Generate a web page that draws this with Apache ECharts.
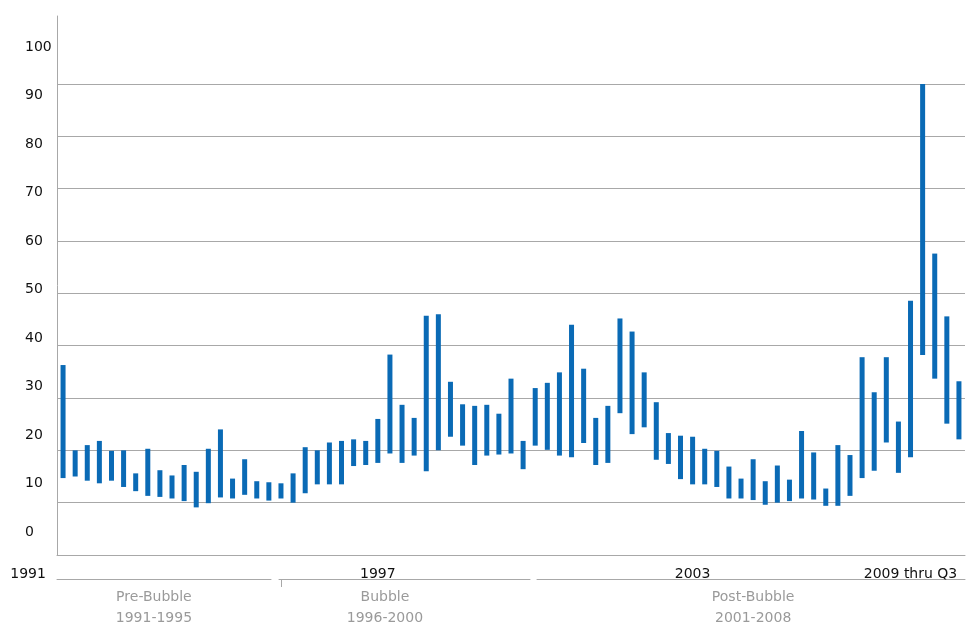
<!DOCTYPE html>
<html>
<head>
<meta charset="utf-8">
<script src="https://cdn.jsdelivr.net/npm/echarts@6/dist/echarts.min.js"></script>
<style>
html,body{margin:0;padding:0;background:#ffffff;}
#chart{width:966px;height:629px;}
</style>
</head>
<body>
<div id="chart"></div>
<script>
// ---- data ----
const years = [1991,1992,1993,1994,1995,1996,1997,1998,1999,2000,2001,2002,2003,2004,2005,2006,2007,2008,2009];
const quarters = ['Q1','Q2','Q3','Q4'];
const categories = [];
years.forEach(function (y) {
  quarters.forEach(function (q) {
    if (!(y === 2009 && q === 'Q4')) categories.push(y + ' ' + q);
  });
});

const highValues = [
  36.3, 20.0, 21.0, 21.8, 19.9, 20.0, 15.6, 20.3, 16.2, 15.2, 17.2, 15.9,
  20.3, 24.0, 14.6, 18.3, 14.1, 13.9, 13.7, 15.6, 20.6, 20.0, 21.5, 21.8,
  22.1, 21.8, 26.0, 38.3, 28.7, 26.2, 45.7, 46.0, 33.1, 28.8, 28.5, 28.7,
  27.0, 33.7, 21.8, 31.9, 32.9, 34.9, 44.0, 35.6, 26.2, 28.5, 45.2, 42.7,
  34.9, 29.2, 23.3, 22.8, 22.6, 20.3, 19.9, 16.9, 14.6, 18.3, 14.1, 17.1,
  14.4, 23.7, 19.6, 12.7, 21.0, 19.1, 37.8, 31.1, 37.8, 25.5, 48.6, 90.0,
  57.6, 45.6, 33.2
];
const lowValues = [
  14.7, 15.0, 14.2, 13.7, 14.2, 13.0, 12.2, 11.3, 11.1, 10.8, 10.3, 9.1,
  9.9, 11.0, 10.8, 11.5, 10.8, 10.4, 10.8, 10.0, 11.8, 13.5, 13.5, 13.5,
  17.0, 17.2, 17.6, 19.4, 17.6, 19.0, 16.0, 20.0, 22.6, 20.9, 17.2, 19.0,
  19.2, 19.4, 16.4, 20.9, 20.1, 19.0, 18.7, 21.4, 17.2, 17.6, 27.1, 23.1,
  24.4, 18.2, 17.4, 14.5, 13.5, 13.5, 13.0, 10.8, 10.8, 10.5, 9.6, 10.0,
  10.3, 10.8, 10.6, 9.4, 9.4, 11.3, 14.7, 16.1, 21.5, 15.7, 18.7, 38.2,
  33.7, 25.1, 22.1
];

const yTickLabels = [0, 10, 20, 30, 40, 50, 60, 70, 80, 90, 100];
const yearLabels = ['1991', '1997', '2003', '2009 thru Q3'];
const yearLabelIndex = [0, 26, 52, 70];
const periodNames = ['Pre-Bubble', 'Bubble', 'Post-Bubble'];
const periodRanges = ['1991-1995', '1996-2000', '2001-2008'];
const periodLabelIndex = [8, 27, 57];
const periodDividerIndex = 18;

// ---- chart ----
const FONT = 'DejaVu Sans';
const GRID_COLOR = '#a8a8a8';
const BAR_COLOR = '#0a6ab5';

const rangeValues = highValues.map(function (h, i) { return +(h - lowValues[i]).toFixed(2); });

const chart = echarts.init(document.getElementById('chart'), null, { renderer: 'canvas' });

const gridRect = { left: 57, right: 1, top: 16, bottom: 74 };

const splitColors = [];
for (let i = 0; i < 9; i++) splitColors.push(GRID_COLOR);
splitColors.push('rgba(0,0,0,0)');

const option = {
  backgroundColor: '#ffffff',
  animation: false,
  grid: [
    Object.assign({}, gridRect),
    Object.assign({}, gridRect)
  ],
  xAxis: [
    {
      gridIndex: 0,
      type: 'category',
      data: categories,
      boundaryGap: true,
      axisLine: { show: true, onZero: false, lineStyle: { color: GRID_COLOR, width: 1 } },
      axisTick: { show: false },
      axisLabel: {
        interval: 0,
        margin: 12,
        color: '#111111',
        fontFamily: FONT,
        fontSize: 14,
        formatter: function (value, index) {
          const k = yearLabelIndex.indexOf(index);
          if (k < 0) return '';
          return '{' + (k === 0 ? 'first' : 'yr') + '|' + yearLabels[k] + '}';
        },
        rich: {
          first: { fontFamily: FONT, fontSize: 14, color: '#111111', padding: [0, 70, 0, 0] },
          yr: { fontFamily: FONT, fontSize: 14, color: '#111111' }
        }
      },
      splitLine: { show: false }
    },
    {
      gridIndex: 1,
      type: 'category',
      data: categories,
      boundaryGap: true,
      position: 'bottom',
      offset: 26,
      axisLine: { show: true, onZero: false, lineStyle: { color: GRID_COLOR, width: 1, type: [214, 8, 251, 7, 600] } },
      axisTick: {
        show: true,
        alignWithLabel: true,
        interval: function (index) { return index === periodDividerIndex; },
        length: 8,
        lineStyle: { color: GRID_COLOR, width: 1 }
      },
      axisLabel: {
        interval: 0,
        margin: 8,
        color: '#9a9a9a',
        fontFamily: FONT,
        fontSize: 14,
        lineHeight: 21,
        formatter: function (value, index) {
          const k = periodLabelIndex.indexOf(index);
          if (k < 0) return '';
          const s = 'p' + k;
          return '{' + s + '|' + periodNames[k] + '}\n{' + s + '|' + periodRanges[k] + '}';
        },
        rich: {
          p0: { fontFamily: FONT, fontSize: 14, color: '#9a9a9a', lineHeight: 21, padding: [0, 12, 0, 0] },
          p1: { fontFamily: FONT, fontSize: 14, color: '#9a9a9a', lineHeight: 21, padding: [0, 10, 0, 0] },
          p2: { fontFamily: FONT, fontSize: 14, color: '#9a9a9a', lineHeight: 21 }
        }
      },
      splitLine: { show: false }
    }
  ],
  yAxis: [
    {
      gridIndex: 0,
      type: 'value',
      min: 0,
      max: 103,
      interval: 10,
      axisLine: { show: true, onZero: false, lineStyle: { color: GRID_COLOR, width: 1 } },
      axisTick: { show: false },
      axisLabel: { show: false },
      splitLine: {
        show: true,
        showMinLine: false,
        showMaxLine: false,
        lineStyle: { color: splitColors, width: 1 }
      }
    },
    {
      gridIndex: 1,
      type: 'value',
      position: 'left',
      min: -4.31,
      max: 106.37,
      axisLine: { show: false, onZero: false },
      axisTick: { show: false },
      splitLine: { show: false },
      axisLabel: {
        show: true,
        customValues: yTickLabels,
        align: 'left',
        margin: 32,
        color: '#111111',
        fontFamily: FONT,
        fontSize: 14
      }
    }
  ],
  series: [
    {
      name: 'base',
      type: 'bar',
      xAxisIndex: 0,
      yAxisIndex: 0,
      stack: 'range',
      data: lowValues,
      barWidth: 5,
      silent: true,
      itemStyle: { color: 'rgba(0,0,0,0)' }
    },
    {
      name: 'range',
      type: 'bar',
      xAxisIndex: 0,
      yAxisIndex: 0,
      stack: 'range',
      data: rangeValues,
      barWidth: 5,
      itemStyle: { color: BAR_COLOR }
    }
  ]
};

chart.setOption(option);
</script>
</body>
</html>
